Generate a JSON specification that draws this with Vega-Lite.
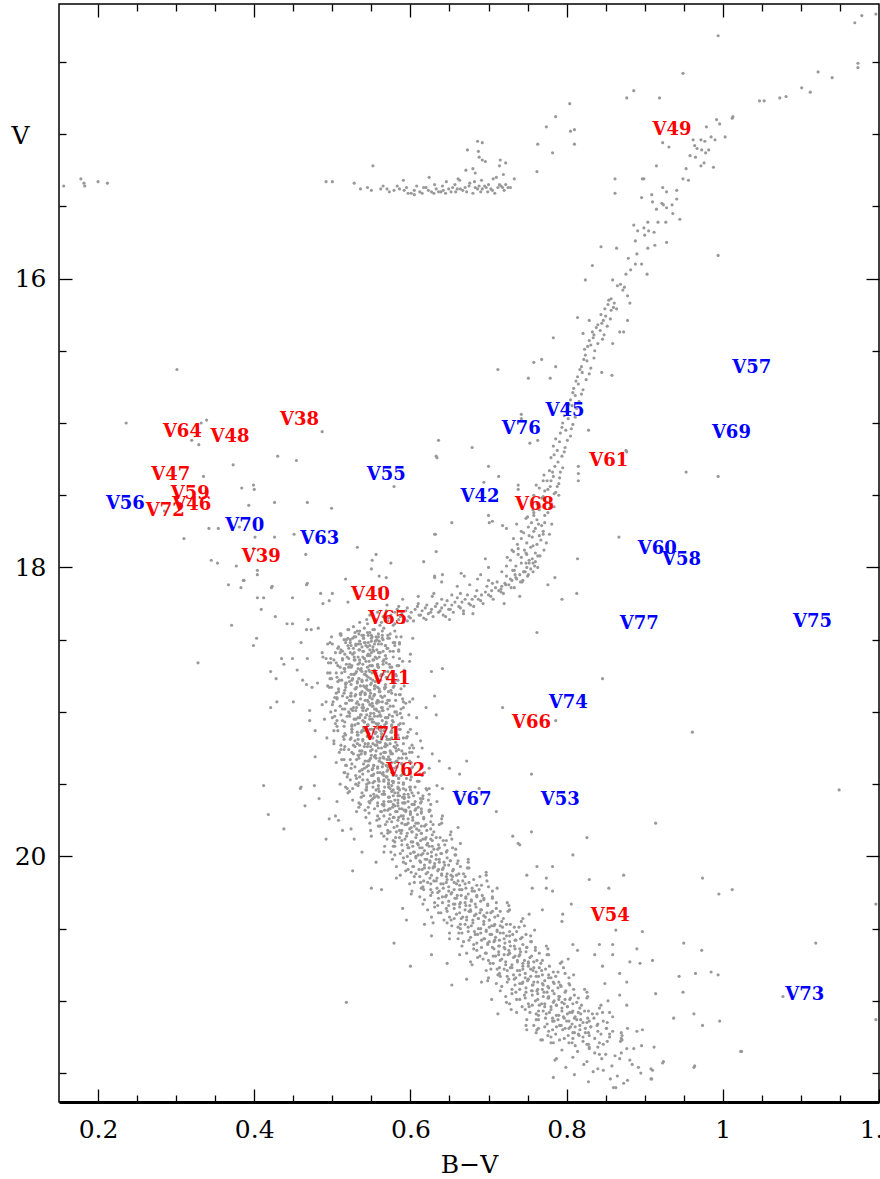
{
"$schema":"https://vega.github.io/schema/vega-lite/v6.json",
"width":820,"height":1098,
"autosize":{"type":"none"},
"padding":{"left":59,"top":4,"right":1,"bottom":77},
"background":"white",
"config":{"view":{"stroke":"black","strokeWidth":1.5},"axis":{"grid":false,"tickColor":"black","tickWidth":1.3,"domain":false,"labelColor":"black","titleColor":"black","labelFont":"DejaVu Serif","titleFont":"DejaVu Serif","labelFontSize":25,"titleFontSize":25,"titleFontWeight":"normal","labelFlush":false,"labelOverlap":false}},
"datasets":{
"ids":[
{"lab":"V49","b":0.935,"v":14.97,"g":"r"},{"lab":"V64","b":0.308,"v":17.06,"g":"r"},{"lab":"V48","b":0.369,"v":17.10,"g":"r"},{"lab":"V38","b":0.458,"v":16.98,"g":"r"},{"lab":"V47","b":0.293,"v":17.36,"g":"r"},{"lab":"V59","b":0.318,"v":17.49,"g":"r"},{"lab":"V46","b":0.320,"v":17.57,"g":"r"},{"lab":"V72","b":0.286,"v":17.61,"g":"r"},{"lab":"V39","b":0.409,"v":17.93,"g":"r"},{"lab":"V40","b":0.549,"v":18.19,"g":"r"},{"lab":"V65","b":0.571,"v":18.36,"g":"r"},{"lab":"V41","b":0.575,"v":18.77,"g":"r"},{"lab":"V71","b":0.564,"v":19.16,"g":"r"},{"lab":"V62","b":0.594,"v":19.41,"g":"r"},{"lab":"V66","b":0.755,"v":19.08,"g":"r"},{"lab":"V68","b":0.759,"v":17.57,"g":"r"},{"lab":"V61","b":0.854,"v":17.26,"g":"r"},{"lab":"V54","b":0.856,"v":20.41,"g":"r"},
{"lab":"V57","b":1.037,"v":16.62,"g":"b"},{"lab":"V45","b":0.798,"v":16.92,"g":"b"},{"lab":"V76","b":0.742,"v":17.04,"g":"b"},{"lab":"V69","b":1.011,"v":17.07,"g":"b"},{"lab":"V55","b":0.569,"v":17.36,"g":"b"},{"lab":"V42","b":0.689,"v":17.51,"g":"b"},{"lab":"V56","b":0.235,"v":17.56,"g":"b"},{"lab":"V70","b":0.388,"v":17.71,"g":"b"},{"lab":"V63","b":0.484,"v":17.80,"g":"b"},{"lab":"V60","b":0.916,"v":17.87,"g":"b"},{"lab":"V58","b":0.947,"v":17.95,"g":"b"},{"lab":"V77","b":0.893,"v":18.39,"g":"b"},{"lab":"V75","b":1.115,"v":18.38,"g":"b"},{"lab":"V74","b":0.802,"v":18.94,"g":"b"},{"lab":"V67","b":0.679,"v":19.61,"g":"b"},{"lab":"V53","b":0.792,"v":19.61,"g":"b"},{"lab":"V73","b":1.105,"v":20.96,"g":"b"}
],
"stars":[
{"b":0.511,"v":18.46},{"b":0.521,"v":18.43},{"b":0.529,"v":18.45},{"b":0.535,"v":18.44},{"b":0.540,"v":18.47},{"b":0.545,"v":18.45},{"b":0.550,"v":18.47},{"b":0.554,"v":18.43},{"b":0.559,"v":18.46},{"b":0.564,"v":18.44},{"b":0.571,"v":18.47},{"b":0.580,"v":18.44},
{"b":0.515,"v":18.50},{"b":0.523,"v":18.52},{"b":0.530,"v":18.48},{"b":0.535,"v":18.51},{"b":0.540,"v":18.49},{"b":0.546,"v":18.52},{"b":0.550,"v":18.49},{"b":0.555,"v":18.51},{"b":0.559,"v":18.48},{"b":0.565,"v":18.50},{"b":0.573,"v":18.49},{"b":0.586,"v":18.52},
{"b":0.511,"v":18.57},{"b":0.520,"v":18.54},{"b":0.527,"v":18.56},{"b":0.533,"v":18.53},{"b":0.538,"v":18.55},{"b":0.543,"v":18.54},{"b":0.548,"v":18.57},{"b":0.552,"v":18.55},{"b":0.557,"v":18.57},{"b":0.563,"v":18.53},{"b":0.570,"v":18.56},{"b":0.580,"v":18.54},
{"b":0.510,"v":18.59},{"b":0.519,"v":18.62},{"b":0.526,"v":18.60},{"b":0.533,"v":18.62},{"b":0.539,"v":18.58},{"b":0.545,"v":18.61},{"b":0.550,"v":18.59},{"b":0.555,"v":18.62},{"b":0.561,"v":18.59},{"b":0.568,"v":18.61},{"b":0.578,"v":18.58},{"b":0.600,"v":18.60},
{"b":0.495,"v":18.66},{"b":0.513,"v":18.64},{"b":0.522,"v":18.67},{"b":0.529,"v":18.64},{"b":0.535,"v":18.66},{"b":0.541,"v":18.63},{"b":0.547,"v":18.65},{"b":0.552,"v":18.64},{"b":0.558,"v":18.67},{"b":0.565,"v":18.65},{"b":0.573,"v":18.67},{"b":0.586,"v":18.63},
{"b":0.507,"v":18.68},{"b":0.516,"v":18.70},{"b":0.524,"v":18.69},{"b":0.531,"v":18.72},{"b":0.537,"v":18.70},{"b":0.543,"v":18.72},{"b":0.548,"v":18.68},{"b":0.554,"v":18.71},{"b":0.559,"v":18.69},{"b":0.567,"v":18.72},{"b":0.576,"v":18.69},{"b":0.592,"v":18.71},
{"b":0.499,"v":18.77},{"b":0.512,"v":18.73},{"b":0.521,"v":18.76},{"b":0.528,"v":18.74},{"b":0.534,"v":18.77},{"b":0.541,"v":18.74},{"b":0.546,"v":18.76},{"b":0.551,"v":18.73},{"b":0.557,"v":18.75},{"b":0.563,"v":18.74},{"b":0.571,"v":18.77},{"b":0.582,"v":18.75},
{"b":0.507,"v":18.79},{"b":0.517,"v":18.81},{"b":0.525,"v":18.78},{"b":0.532,"v":18.80},{"b":0.538,"v":18.79},{"b":0.544,"v":18.82},{"b":0.550,"v":18.80},{"b":0.555,"v":18.82},{"b":0.561,"v":18.78},{"b":0.568,"v":18.81},{"b":0.577,"v":18.79},{"b":0.592,"v":18.82},
{"b":0.505,"v":18.87},{"b":0.516,"v":18.85},{"b":0.524,"v":18.87},{"b":0.531,"v":18.83},{"b":0.538,"v":18.86},{"b":0.544,"v":18.84},{"b":0.549,"v":18.87},{"b":0.554,"v":18.84},{"b":0.560,"v":18.86},{"b":0.567,"v":18.83},{"b":0.575,"v":18.85},{"b":0.588,"v":18.84},
{"b":0.513,"v":18.89},{"b":0.522,"v":18.92},{"b":0.529,"v":18.89},{"b":0.536,"v":18.91},{"b":0.542,"v":18.88},{"b":0.548,"v":18.90},{"b":0.553,"v":18.89},{"b":0.558,"v":18.92},{"b":0.564,"v":18.90},{"b":0.571,"v":18.92},{"b":0.581,"v":18.88},{"b":0.603,"v":18.91},
{"b":0.500,"v":18.95},{"b":0.518,"v":18.94},{"b":0.527,"v":18.97},{"b":0.534,"v":18.95},{"b":0.540,"v":18.97},{"b":0.546,"v":18.93},{"b":0.552,"v":18.96},{"b":0.557,"v":18.94},{"b":0.563,"v":18.97},{"b":0.570,"v":18.94},{"b":0.578,"v":18.96},{"b":0.591,"v":18.93},
{"b":0.513,"v":18.98},{"b":0.522,"v":19.01},{"b":0.530,"v":18.99},{"b":0.537,"v":19.02},{"b":0.543,"v":18.99},{"b":0.549,"v":19.01},{"b":0.554,"v":18.98},{"b":0.560,"v":19.00},{"b":0.565,"v":18.99},{"b":0.573,"v":19.02},{"b":0.582,"v":19.00},{"b":0.598,"v":19.02},
{"b":0.506,"v":19.06},{"b":0.519,"v":19.03},{"b":0.528,"v":19.05},{"b":0.535,"v":19.04},{"b":0.541,"v":19.07},{"b":0.548,"v":19.05},{"b":0.553,"v":19.07},{"b":0.558,"v":19.03},{"b":0.564,"v":19.06},{"b":0.570,"v":19.04},{"b":0.578,"v":19.07},{"b":0.589,"v":19.04},
{"b":0.515,"v":19.10},{"b":0.525,"v":19.12},{"b":0.533,"v":19.08},{"b":0.540,"v":19.11},{"b":0.546,"v":19.09},{"b":0.552,"v":19.12},{"b":0.558,"v":19.09},{"b":0.563,"v":19.11},{"b":0.569,"v":19.08},{"b":0.576,"v":19.10},{"b":0.585,"v":19.09},{"b":0.600,"v":19.12},
{"b":0.514,"v":19.17},{"b":0.525,"v":19.14},{"b":0.533,"v":19.16},{"b":0.540,"v":19.13},{"b":0.547,"v":19.15},{"b":0.553,"v":19.14},{"b":0.558,"v":19.17},{"b":0.563,"v":19.15},{"b":0.569,"v":19.17},{"b":0.576,"v":19.13},{"b":0.584,"v":19.16},{"b":0.597,"v":19.14},
{"b":0.523,"v":19.19},{"b":0.532,"v":19.22},{"b":0.539,"v":19.20},{"b":0.546,"v":19.22},{"b":0.552,"v":19.18},{"b":0.558,"v":19.21},{"b":0.563,"v":19.19},{"b":0.568,"v":19.22},{"b":0.574,"v":19.19},{"b":0.581,"v":19.21},{"b":0.591,"v":19.18},{"b":0.613,"v":19.20},
{"b":0.511,"v":19.26},{"b":0.529,"v":19.24},{"b":0.538,"v":19.27},{"b":0.545,"v":19.24},{"b":0.551,"v":19.26},{"b":0.557,"v":19.23},{"b":0.563,"v":19.25},{"b":0.568,"v":19.24},{"b":0.574,"v":19.27},{"b":0.581,"v":19.25},{"b":0.589,"v":19.27},{"b":0.602,"v":19.23},
{"b":0.525,"v":19.28},{"b":0.534,"v":19.30},{"b":0.542,"v":19.29},{"b":0.549,"v":19.32},{"b":0.555,"v":19.30},{"b":0.561,"v":19.32},{"b":0.566,"v":19.28},{"b":0.572,"v":19.31},{"b":0.577,"v":19.29},{"b":0.585,"v":19.32},{"b":0.594,"v":19.29},{"b":0.610,"v":19.31},
{"b":0.518,"v":19.37},{"b":0.531,"v":19.33},{"b":0.540,"v":19.36},{"b":0.547,"v":19.34},{"b":0.553,"v":19.37},{"b":0.560,"v":19.34},{"b":0.565,"v":19.36},{"b":0.570,"v":19.33},{"b":0.576,"v":19.35},{"b":0.582,"v":19.34},{"b":0.590,"v":19.37},{"b":0.601,"v":19.35},
{"b":0.524,"v":19.39},{"b":0.535,"v":19.41},{"b":0.544,"v":19.38},{"b":0.551,"v":19.40},{"b":0.558,"v":19.39},{"b":0.565,"v":19.42},{"b":0.571,"v":19.40},{"b":0.577,"v":19.42},{"b":0.583,"v":19.38},{"b":0.591,"v":19.41},{"b":0.601,"v":19.39},{"b":0.618,"v":19.42},
{"b":0.523,"v":19.47},{"b":0.535,"v":19.45},{"b":0.545,"v":19.47},{"b":0.553,"v":19.43},{"b":0.559,"v":19.46},{"b":0.566,"v":19.44},{"b":0.572,"v":19.47},{"b":0.578,"v":19.44},{"b":0.585,"v":19.46},{"b":0.592,"v":19.43},{"b":0.601,"v":19.45},{"b":0.615,"v":19.44},
{"b":0.534,"v":19.49},{"b":0.544,"v":19.52},{"b":0.552,"v":19.49},{"b":0.559,"v":19.51},{"b":0.566,"v":19.48},{"b":0.572,"v":19.50},{"b":0.578,"v":19.49},{"b":0.584,"v":19.52},{"b":0.591,"v":19.50},{"b":0.599,"v":19.52},{"b":0.610,"v":19.48},{"b":0.634,"v":19.51},
{"b":0.522,"v":19.55},{"b":0.543,"v":19.54},{"b":0.553,"v":19.57},{"b":0.560,"v":19.55},{"b":0.567,"v":19.57},{"b":0.574,"v":19.53},{"b":0.580,"v":19.56},{"b":0.586,"v":19.54},{"b":0.592,"v":19.57},{"b":0.600,"v":19.54},{"b":0.610,"v":19.56},{"b":0.624,"v":19.53},
{"b":0.540,"v":19.58},{"b":0.550,"v":19.61},{"b":0.559,"v":19.59},{"b":0.566,"v":19.62},{"b":0.573,"v":19.59},{"b":0.580,"v":19.61},{"b":0.586,"v":19.58},{"b":0.592,"v":19.60},{"b":0.598,"v":19.59},{"b":0.606,"v":19.62},{"b":0.616,"v":19.60},{"b":0.634,"v":19.62},
{"b":0.534,"v":19.66},{"b":0.548,"v":19.63},{"b":0.558,"v":19.65},{"b":0.566,"v":19.64},{"b":0.573,"v":19.67},{"b":0.580,"v":19.65},{"b":0.586,"v":19.67},{"b":0.592,"v":19.63},{"b":0.598,"v":19.66},{"b":0.605,"v":19.64},{"b":0.614,"v":19.67},{"b":0.626,"v":19.64},
{"b":0.547,"v":19.70},{"b":0.558,"v":19.72},{"b":0.567,"v":19.68},{"b":0.574,"v":19.71},{"b":0.581,"v":19.69},{"b":0.588,"v":19.72},{"b":0.594,"v":19.69},{"b":0.600,"v":19.71},{"b":0.606,"v":19.68},{"b":0.614,"v":19.70},{"b":0.624,"v":19.69},{"b":0.641,"v":19.72},
{"b":0.548,"v":19.77},{"b":0.560,"v":19.74},{"b":0.570,"v":19.76},{"b":0.578,"v":19.73},{"b":0.584,"v":19.75},{"b":0.591,"v":19.74},{"b":0.597,"v":19.77},{"b":0.603,"v":19.75},{"b":0.610,"v":19.77},{"b":0.617,"v":19.73},{"b":0.626,"v":19.76},{"b":0.640,"v":19.74},
{"b":0.561,"v":19.79},{"b":0.571,"v":19.82},{"b":0.579,"v":19.80},{"b":0.586,"v":19.82},{"b":0.593,"v":19.78},{"b":0.599,"v":19.81},{"b":0.605,"v":19.79},{"b":0.611,"v":19.82},{"b":0.618,"v":19.79},{"b":0.626,"v":19.81},{"b":0.637,"v":19.78},{"b":0.661,"v":19.80},
{"b":0.550,"v":19.86},{"b":0.571,"v":19.84},{"b":0.581,"v":19.87},{"b":0.588,"v":19.84},{"b":0.595,"v":19.86},{"b":0.602,"v":19.83},{"b":0.608,"v":19.85},{"b":0.614,"v":19.84},{"b":0.620,"v":19.87},{"b":0.628,"v":19.85},{"b":0.638,"v":19.87},{"b":0.652,"v":19.83},
{"b":0.570,"v":19.88},{"b":0.580,"v":19.90},{"b":0.589,"v":19.89},{"b":0.596,"v":19.92},{"b":0.603,"v":19.90},{"b":0.610,"v":19.92},{"b":0.616,"v":19.88},{"b":0.622,"v":19.91},{"b":0.628,"v":19.89},{"b":0.636,"v":19.92},{"b":0.646,"v":19.89},{"b":0.664,"v":19.91},
{"b":0.566,"v":19.97},{"b":0.580,"v":19.93},{"b":0.590,"v":19.96},{"b":0.598,"v":19.94},{"b":0.605,"v":19.97},{"b":0.612,"v":19.94},{"b":0.618,"v":19.96},{"b":0.624,"v":19.93},{"b":0.630,"v":19.95},{"b":0.637,"v":19.94},{"b":0.646,"v":19.97},{"b":0.658,"v":19.95},
{"b":0.580,"v":19.99},{"b":0.591,"v":20.01},{"b":0.600,"v":19.98},{"b":0.607,"v":20.00},{"b":0.614,"v":19.99},{"b":0.621,"v":20.02},{"b":0.627,"v":20.00},{"b":0.633,"v":20.02},{"b":0.639,"v":19.98},{"b":0.647,"v":20.01},{"b":0.657,"v":19.99},{"b":0.674,"v":20.02},
{"b":0.582,"v":20.07},{"b":0.594,"v":20.05},{"b":0.604,"v":20.07},{"b":0.612,"v":20.03},{"b":0.618,"v":20.06},{"b":0.625,"v":20.04},{"b":0.631,"v":20.07},{"b":0.637,"v":20.04},{"b":0.644,"v":20.06},{"b":0.651,"v":20.03},{"b":0.660,"v":20.05},{"b":0.674,"v":20.04},
{"b":0.597,"v":20.09},{"b":0.607,"v":20.12},{"b":0.615,"v":20.09},{"b":0.622,"v":20.11},{"b":0.629,"v":20.08},{"b":0.635,"v":20.10},{"b":0.641,"v":20.09},{"b":0.647,"v":20.12},{"b":0.654,"v":20.10},{"b":0.662,"v":20.12},{"b":0.673,"v":20.08},{"b":0.697,"v":20.11},
{"b":0.582,"v":20.15},{"b":0.605,"v":20.14},{"b":0.617,"v":20.17},{"b":0.625,"v":20.15},{"b":0.633,"v":20.17},{"b":0.640,"v":20.13},{"b":0.647,"v":20.16},{"b":0.654,"v":20.14},{"b":0.661,"v":20.17},{"b":0.670,"v":20.14},{"b":0.681,"v":20.16},{"b":0.697,"v":20.13},
{"b":0.605,"v":20.18},{"b":0.616,"v":20.21},{"b":0.626,"v":20.19},{"b":0.634,"v":20.22},{"b":0.642,"v":20.19},{"b":0.649,"v":20.21},{"b":0.656,"v":20.18},{"b":0.663,"v":20.20},{"b":0.670,"v":20.19},{"b":0.679,"v":20.22},{"b":0.691,"v":20.20},{"b":0.711,"v":20.22},
{"b":0.601,"v":20.26},{"b":0.617,"v":20.23},{"b":0.628,"v":20.25},{"b":0.637,"v":20.24},{"b":0.646,"v":20.27},{"b":0.653,"v":20.25},{"b":0.660,"v":20.27},{"b":0.666,"v":20.23},{"b":0.674,"v":20.26},{"b":0.682,"v":20.24},{"b":0.692,"v":20.27},{"b":0.705,"v":20.24},
{"b":0.618,"v":20.30},{"b":0.631,"v":20.32},{"b":0.641,"v":20.28},{"b":0.649,"v":20.31},{"b":0.657,"v":20.29},{"b":0.664,"v":20.32},{"b":0.671,"v":20.29},{"b":0.678,"v":20.31},{"b":0.685,"v":20.28},{"b":0.694,"v":20.30},{"b":0.705,"v":20.29},{"b":0.724,"v":20.32},
{"b":0.622,"v":20.37},{"b":0.635,"v":20.34},{"b":0.646,"v":20.36},{"b":0.655,"v":20.33},{"b":0.663,"v":20.35},{"b":0.671,"v":20.34},{"b":0.677,"v":20.37},{"b":0.684,"v":20.35},{"b":0.691,"v":20.37},{"b":0.699,"v":20.33},{"b":0.710,"v":20.36},{"b":0.726,"v":20.34},
{"b":0.639,"v":20.39},{"b":0.650,"v":20.42},{"b":0.659,"v":20.40},{"b":0.667,"v":20.42},{"b":0.675,"v":20.38},{"b":0.682,"v":20.41},{"b":0.689,"v":20.39},{"b":0.696,"v":20.42},{"b":0.703,"v":20.39},{"b":0.712,"v":20.41},{"b":0.725,"v":20.38},{"b":0.752,"v":20.40},
{"b":0.629,"v":20.46},{"b":0.652,"v":20.44},{"b":0.664,"v":20.47},{"b":0.672,"v":20.44},{"b":0.680,"v":20.46},{"b":0.687,"v":20.43},{"b":0.694,"v":20.45},{"b":0.701,"v":20.44},{"b":0.708,"v":20.47},{"b":0.717,"v":20.45},{"b":0.728,"v":20.47},{"b":0.744,"v":20.43},
{"b":0.653,"v":20.48},{"b":0.664,"v":20.50},{"b":0.674,"v":20.49},{"b":0.682,"v":20.52},{"b":0.690,"v":20.50},{"b":0.697,"v":20.52},{"b":0.704,"v":20.48},{"b":0.711,"v":20.51},{"b":0.718,"v":20.49},{"b":0.727,"v":20.52},{"b":0.739,"v":20.49},{"b":0.759,"v":20.51},
{"b":0.650,"v":20.57},{"b":0.666,"v":20.53},{"b":0.677,"v":20.56},{"b":0.686,"v":20.54},{"b":0.695,"v":20.57},{"b":0.702,"v":20.54},{"b":0.709,"v":20.56},{"b":0.715,"v":20.53},{"b":0.723,"v":20.55},{"b":0.731,"v":20.54},{"b":0.741,"v":20.57},{"b":0.754,"v":20.55},
{"b":0.668,"v":20.59},{"b":0.681,"v":20.61},{"b":0.691,"v":20.58},{"b":0.699,"v":20.60},{"b":0.707,"v":20.59},{"b":0.714,"v":20.62},{"b":0.721,"v":20.60},{"b":0.728,"v":20.62},{"b":0.735,"v":20.58},{"b":0.744,"v":20.61},{"b":0.755,"v":20.59},{"b":0.774,"v":20.62},
{"b":0.672,"v":20.67},{"b":0.685,"v":20.65},{"b":0.696,"v":20.67},{"b":0.705,"v":20.63},{"b":0.713,"v":20.66},{"b":0.721,"v":20.64},{"b":0.727,"v":20.67},{"b":0.734,"v":20.64},{"b":0.741,"v":20.66},{"b":0.749,"v":20.63},{"b":0.760,"v":20.65},{"b":0.776,"v":20.64},
{"b":0.689,"v":20.69},{"b":0.700,"v":20.72},{"b":0.709,"v":20.69},{"b":0.717,"v":20.71},{"b":0.725,"v":20.68},{"b":0.732,"v":20.70},{"b":0.739,"v":20.69},{"b":0.746,"v":20.72},{"b":0.753,"v":20.70},{"b":0.762,"v":20.72},{"b":0.775,"v":20.68},{"b":0.802,"v":20.71},
{"b":0.679,"v":20.75},{"b":0.702,"v":20.74},{"b":0.714,"v":20.77},{"b":0.722,"v":20.75},{"b":0.730,"v":20.77},{"b":0.737,"v":20.73},{"b":0.744,"v":20.76},{"b":0.751,"v":20.74},{"b":0.758,"v":20.77},{"b":0.767,"v":20.74},{"b":0.778,"v":20.76},{"b":0.794,"v":20.73},
{"b":0.703,"v":20.78},{"b":0.714,"v":20.81},{"b":0.724,"v":20.79},{"b":0.732,"v":20.82},{"b":0.740,"v":20.79},{"b":0.747,"v":20.81},{"b":0.754,"v":20.78},{"b":0.761,"v":20.80},{"b":0.768,"v":20.79},{"b":0.777,"v":20.82},{"b":0.789,"v":20.80},{"b":0.809,"v":20.82},
{"b":0.699,"v":20.86},{"b":0.715,"v":20.83},{"b":0.726,"v":20.85},{"b":0.735,"v":20.84},{"b":0.744,"v":20.87},{"b":0.751,"v":20.85},{"b":0.758,"v":20.87},{"b":0.764,"v":20.83},{"b":0.772,"v":20.86},{"b":0.780,"v":20.84},{"b":0.790,"v":20.87},{"b":0.803,"v":20.84},
{"b":0.717,"v":20.90},{"b":0.730,"v":20.92},{"b":0.740,"v":20.88},{"b":0.748,"v":20.91},{"b":0.756,"v":20.89},{"b":0.763,"v":20.92},{"b":0.770,"v":20.89},{"b":0.777,"v":20.91},{"b":0.784,"v":20.88},{"b":0.793,"v":20.90},{"b":0.804,"v":20.89},{"b":0.823,"v":20.92},
{"b":0.722,"v":20.97},{"b":0.735,"v":20.94},{"b":0.746,"v":20.96},{"b":0.755,"v":20.93},{"b":0.763,"v":20.95},{"b":0.771,"v":20.94},{"b":0.777,"v":20.97},{"b":0.784,"v":20.95},{"b":0.791,"v":20.97},{"b":0.799,"v":20.93},{"b":0.810,"v":20.96},{"b":0.826,"v":20.94},
{"b":0.740,"v":20.99},{"b":0.751,"v":21.02},{"b":0.760,"v":21.00},{"b":0.768,"v":21.02},{"b":0.776,"v":20.98},{"b":0.783,"v":21.01},{"b":0.790,"v":20.99},{"b":0.797,"v":21.02},{"b":0.804,"v":20.99},{"b":0.813,"v":21.01},{"b":0.826,"v":20.98},{"b":0.853,"v":21.00},
{"b":0.729,"v":21.06},{"b":0.752,"v":21.04},{"b":0.764,"v":21.07},{"b":0.772,"v":21.04},{"b":0.780,"v":21.06},{"b":0.787,"v":21.03},{"b":0.794,"v":21.05},{"b":0.801,"v":21.04},{"b":0.808,"v":21.07},{"b":0.817,"v":21.05},{"b":0.828,"v":21.07},{"b":0.844,"v":21.03},
{"b":0.753,"v":21.08},{"b":0.764,"v":21.10},{"b":0.774,"v":21.09},{"b":0.782,"v":21.12},{"b":0.790,"v":21.10},{"b":0.797,"v":21.12},{"b":0.804,"v":21.08},{"b":0.811,"v":21.11},{"b":0.818,"v":21.09},{"b":0.827,"v":21.12},{"b":0.839,"v":21.09},{"b":0.859,"v":21.11},
{"b":0.748,"v":21.17},{"b":0.764,"v":21.13},{"b":0.775,"v":21.16},{"b":0.784,"v":21.14},{"b":0.793,"v":21.17},{"b":0.800,"v":21.14},{"b":0.807,"v":21.16},{"b":0.813,"v":21.13},{"b":0.821,"v":21.15},{"b":0.829,"v":21.14},{"b":0.839,"v":21.17},{"b":0.852,"v":21.15},
{"b":0.764,"v":21.19},{"b":0.777,"v":21.21},{"b":0.787,"v":21.18},{"b":0.795,"v":21.20},{"b":0.803,"v":21.19},{"b":0.810,"v":21.22},{"b":0.817,"v":21.20},{"b":0.824,"v":21.22},{"b":0.831,"v":21.18},{"b":0.840,"v":21.21},{"b":0.851,"v":21.19},{"b":0.870,"v":21.22},
{"b":0.767,"v":21.27},{"b":0.780,"v":21.25},{"b":0.791,"v":21.27},{"b":0.808,"v":21.26},{"b":0.816,"v":21.24},{"b":0.829,"v":21.24},{"b":0.836,"v":21.26},{"b":0.855,"v":21.25},{"b":0.871,"v":21.24},
{"b":0.783,"v":21.29},{"b":0.803,"v":21.29},{"b":0.811,"v":21.31},{"b":0.826,"v":21.30},{"b":0.840,"v":21.32},{"b":0.847,"v":21.30},{"b":0.869,"v":21.28},{"b":0.896,"v":21.31},
{"b":0.794,"v":21.34},{"b":0.814,"v":21.35},{"b":0.829,"v":21.33},{"b":0.836,"v":21.36},{"b":0.850,"v":21.37},{"b":0.870,"v":21.36},{"b":0.886,"v":21.33},
{"b":0.785,"v":21.41},{"b":0.808,"v":21.39},{"b":0.826,"v":21.42},{"b":0.845,"v":21.40},{"b":0.862,"v":21.38},{"b":0.881,"v":21.41},
{"b":0.799,"v":21.46},{"b":0.822,"v":21.44},{"b":0.840,"v":21.47},{"b":0.858,"v":21.45},{"b":0.884,"v":21.44},
{"b":0.810,"v":21.51},{"b":0.834,"v":21.49},{"b":0.865,"v":21.52},{"b":0.895,"v":21.50},
{"b":0.828,"v":21.56},{"b":0.856,"v":21.54},{"b":0.873,"v":21.57},
{"b":0.499,"v":18.48},{"b":0.511,"v":18.47},{"b":0.520,"v":18.49},{"b":0.528,"v":18.48},{"b":0.534,"v":18.46},{"b":0.540,"v":18.49},{"b":0.546,"v":18.47},{"b":0.551,"v":18.48},{"b":0.557,"v":18.50},{"b":0.564,"v":18.47},{"b":0.571,"v":18.49},{"b":0.582,"v":18.48},
{"b":0.494,"v":18.53},{"b":0.508,"v":18.55},{"b":0.517,"v":18.52},{"b":0.524,"v":18.54},{"b":0.530,"v":18.53},{"b":0.536,"v":18.53},{"b":0.542,"v":18.52},{"b":0.548,"v":18.54},{"b":0.554,"v":18.53},{"b":0.560,"v":18.51},{"b":0.568,"v":18.54},{"b":0.578,"v":18.52},
{"b":0.504,"v":18.59},{"b":0.513,"v":18.58},{"b":0.521,"v":18.56},{"b":0.528,"v":18.59},{"b":0.534,"v":18.57},{"b":0.540,"v":18.58},{"b":0.546,"v":18.60},{"b":0.552,"v":18.57},{"b":0.559,"v":18.59},{"b":0.565,"v":18.58},{"b":0.574,"v":18.58},{"b":0.585,"v":18.57},
{"b":0.488,"v":18.62},{"b":0.502,"v":18.64},{"b":0.513,"v":18.63},{"b":0.521,"v":18.63},{"b":0.528,"v":18.62},{"b":0.535,"v":18.64},{"b":0.541,"v":18.63},{"b":0.547,"v":18.61},{"b":0.553,"v":18.64},{"b":0.560,"v":18.62},{"b":0.569,"v":18.63},{"b":0.590,"v":18.65},
{"b":0.498,"v":18.66},{"b":0.510,"v":18.69},{"b":0.518,"v":18.67},{"b":0.525,"v":18.68},{"b":0.533,"v":18.70},{"b":0.539,"v":18.67},{"b":0.545,"v":18.69},{"b":0.551,"v":18.68},{"b":0.558,"v":18.68},{"b":0.565,"v":18.67},{"b":0.574,"v":18.69},{"b":0.585,"v":18.68},
{"b":0.494,"v":18.73},{"b":0.505,"v":18.73},{"b":0.516,"v":18.72},{"b":0.524,"v":18.74},{"b":0.530,"v":18.73},{"b":0.536,"v":18.71},{"b":0.542,"v":18.74},{"b":0.548,"v":18.72},{"b":0.555,"v":18.73},{"b":0.562,"v":18.75},{"b":0.571,"v":18.72},{"b":0.581,"v":18.74},
{"b":0.497,"v":18.77},{"b":0.509,"v":18.78},{"b":0.518,"v":18.80},{"b":0.526,"v":18.77},{"b":0.532,"v":18.79},{"b":0.538,"v":18.78},{"b":0.544,"v":18.78},{"b":0.549,"v":18.77},{"b":0.555,"v":18.79},{"b":0.562,"v":18.78},{"b":0.569,"v":18.76},{"b":0.580,"v":18.79},
{"b":0.494,"v":18.82},{"b":0.508,"v":18.84},{"b":0.517,"v":18.83},{"b":0.524,"v":18.81},{"b":0.530,"v":18.84},{"b":0.536,"v":18.82},{"b":0.542,"v":18.83},{"b":0.548,"v":18.85},{"b":0.554,"v":18.82},{"b":0.560,"v":18.84},{"b":0.568,"v":18.83},{"b":0.578,"v":18.83},
{"b":0.506,"v":18.90},{"b":0.515,"v":18.87},{"b":0.523,"v":18.89},{"b":0.530,"v":18.88},{"b":0.536,"v":18.88},{"b":0.542,"v":18.87},{"b":0.548,"v":18.89},{"b":0.554,"v":18.88},{"b":0.561,"v":18.86},{"b":0.567,"v":18.89},{"b":0.576,"v":18.87},{"b":0.587,"v":18.88},
{"b":0.492,"v":18.93},{"b":0.506,"v":18.91},{"b":0.517,"v":18.94},{"b":0.525,"v":18.92},{"b":0.532,"v":18.93},{"b":0.539,"v":18.95},{"b":0.545,"v":18.92},{"b":0.551,"v":18.94},{"b":0.557,"v":18.93},{"b":0.564,"v":18.93},{"b":0.573,"v":18.92},{"b":0.594,"v":18.94},
{"b":0.504,"v":18.99},{"b":0.516,"v":18.98},{"b":0.524,"v":18.98},{"b":0.531,"v":18.97},{"b":0.539,"v":18.99},{"b":0.545,"v":18.98},{"b":0.551,"v":18.96},{"b":0.557,"v":18.99},{"b":0.564,"v":18.97},{"b":0.571,"v":18.98},{"b":0.580,"v":19.00},{"b":0.591,"v":18.97},
{"b":0.500,"v":19.04},{"b":0.511,"v":19.02},{"b":0.522,"v":19.03},{"b":0.530,"v":19.05},{"b":0.536,"v":19.02},{"b":0.542,"v":19.04},{"b":0.548,"v":19.03},{"b":0.554,"v":19.03},{"b":0.561,"v":19.02},{"b":0.568,"v":19.04},{"b":0.577,"v":19.03},{"b":0.587,"v":19.01},
{"b":0.504,"v":19.08},{"b":0.516,"v":19.07},{"b":0.525,"v":19.09},{"b":0.533,"v":19.08},{"b":0.539,"v":19.06},{"b":0.545,"v":19.09},{"b":0.551,"v":19.07},{"b":0.556,"v":19.08},{"b":0.562,"v":19.10},{"b":0.569,"v":19.07},{"b":0.576,"v":19.09},{"b":0.587,"v":19.08},
{"b":0.502,"v":19.13},{"b":0.516,"v":19.15},{"b":0.525,"v":19.12},{"b":0.532,"v":19.14},{"b":0.538,"v":19.13},{"b":0.544,"v":19.13},{"b":0.550,"v":19.12},{"b":0.556,"v":19.14},{"b":0.562,"v":19.13},{"b":0.568,"v":19.11},{"b":0.576,"v":19.14},{"b":0.586,"v":19.12},
{"b":0.515,"v":19.19},{"b":0.524,"v":19.18},{"b":0.532,"v":19.16},{"b":0.539,"v":19.19},{"b":0.545,"v":19.17},{"b":0.551,"v":19.18},{"b":0.557,"v":19.20},{"b":0.563,"v":19.17},{"b":0.570,"v":19.19},{"b":0.576,"v":19.18},{"b":0.585,"v":19.18},{"b":0.596,"v":19.17},
{"b":0.502,"v":19.22},{"b":0.516,"v":19.24},{"b":0.527,"v":19.23},{"b":0.535,"v":19.23},{"b":0.542,"v":19.22},{"b":0.549,"v":19.24},{"b":0.555,"v":19.23},{"b":0.561,"v":19.21},{"b":0.567,"v":19.24},{"b":0.574,"v":19.22},{"b":0.583,"v":19.23},{"b":0.604,"v":19.25},
{"b":0.515,"v":19.26},{"b":0.527,"v":19.29},{"b":0.535,"v":19.27},{"b":0.542,"v":19.28},{"b":0.550,"v":19.30},{"b":0.556,"v":19.27},{"b":0.562,"v":19.29},{"b":0.568,"v":19.28},{"b":0.575,"v":19.28},{"b":0.582,"v":19.27},{"b":0.591,"v":19.29},{"b":0.602,"v":19.28},
{"b":0.512,"v":19.33},{"b":0.523,"v":19.33},{"b":0.534,"v":19.32},{"b":0.542,"v":19.34},{"b":0.548,"v":19.33},{"b":0.554,"v":19.31},{"b":0.560,"v":19.34},{"b":0.566,"v":19.32},{"b":0.573,"v":19.33},{"b":0.580,"v":19.35},{"b":0.589,"v":19.32},{"b":0.599,"v":19.34},
{"b":0.517,"v":19.37},{"b":0.529,"v":19.38},{"b":0.538,"v":19.40},{"b":0.546,"v":19.37},{"b":0.552,"v":19.39},{"b":0.558,"v":19.38},{"b":0.564,"v":19.38},{"b":0.569,"v":19.37},{"b":0.575,"v":19.39},{"b":0.582,"v":19.38},{"b":0.589,"v":19.36},{"b":0.600,"v":19.39},
{"b":0.516,"v":19.42},{"b":0.530,"v":19.44},{"b":0.539,"v":19.43},{"b":0.546,"v":19.41},{"b":0.552,"v":19.44},{"b":0.558,"v":19.42},{"b":0.564,"v":19.43},{"b":0.570,"v":19.45},{"b":0.576,"v":19.42},{"b":0.582,"v":19.44},{"b":0.590,"v":19.43},{"b":0.600,"v":19.43},
{"b":0.530,"v":19.50},{"b":0.539,"v":19.47},{"b":0.547,"v":19.49},{"b":0.554,"v":19.48},{"b":0.560,"v":19.48},{"b":0.566,"v":19.47},{"b":0.572,"v":19.49},{"b":0.578,"v":19.48},{"b":0.585,"v":19.46},{"b":0.591,"v":19.49},{"b":0.600,"v":19.47},{"b":0.611,"v":19.48},
{"b":0.519,"v":19.53},{"b":0.533,"v":19.51},{"b":0.544,"v":19.54},{"b":0.552,"v":19.52},{"b":0.559,"v":19.53},{"b":0.566,"v":19.55},{"b":0.572,"v":19.52},{"b":0.578,"v":19.54},{"b":0.584,"v":19.53},{"b":0.591,"v":19.53},{"b":0.600,"v":19.52},{"b":0.621,"v":19.54},
{"b":0.537,"v":19.59},{"b":0.549,"v":19.58},{"b":0.557,"v":19.58},{"b":0.564,"v":19.57},{"b":0.572,"v":19.59},{"b":0.578,"v":19.58},{"b":0.584,"v":19.56},{"b":0.590,"v":19.59},{"b":0.597,"v":19.57},{"b":0.604,"v":19.58},{"b":0.613,"v":19.60},{"b":0.624,"v":19.57},
{"b":0.536,"v":19.64},{"b":0.547,"v":19.62},{"b":0.558,"v":19.63},{"b":0.566,"v":19.65},{"b":0.572,"v":19.62},{"b":0.578,"v":19.64},{"b":0.584,"v":19.63},{"b":0.590,"v":19.63},{"b":0.597,"v":19.62},{"b":0.604,"v":19.64},{"b":0.613,"v":19.63},{"b":0.623,"v":19.61},
{"b":0.542,"v":19.68},{"b":0.554,"v":19.67},{"b":0.563,"v":19.69},{"b":0.571,"v":19.68},{"b":0.577,"v":19.66},{"b":0.583,"v":19.69},{"b":0.589,"v":19.67},{"b":0.594,"v":19.68},{"b":0.600,"v":19.70},{"b":0.607,"v":19.67},{"b":0.614,"v":19.69},{"b":0.625,"v":19.68},
{"b":0.543,"v":19.73},{"b":0.557,"v":19.75},{"b":0.566,"v":19.72},{"b":0.573,"v":19.74},{"b":0.579,"v":19.73},{"b":0.585,"v":19.73},{"b":0.591,"v":19.72},{"b":0.597,"v":19.74},{"b":0.603,"v":19.73},{"b":0.609,"v":19.71},{"b":0.617,"v":19.74},{"b":0.627,"v":19.72},
{"b":0.559,"v":19.79},{"b":0.568,"v":19.78},{"b":0.576,"v":19.76},{"b":0.583,"v":19.79},{"b":0.589,"v":19.77},{"b":0.595,"v":19.78},{"b":0.601,"v":19.80},{"b":0.607,"v":19.77},{"b":0.614,"v":19.79},{"b":0.620,"v":19.78},{"b":0.629,"v":19.78},{"b":0.640,"v":19.77},
{"b":0.549,"v":19.82},{"b":0.563,"v":19.84},{"b":0.574,"v":19.83},{"b":0.582,"v":19.83},{"b":0.589,"v":19.82},{"b":0.596,"v":19.84},{"b":0.602,"v":19.83},{"b":0.608,"v":19.81},{"b":0.614,"v":19.84},{"b":0.621,"v":19.82},{"b":0.630,"v":19.83},{"b":0.651,"v":19.85},
{"b":0.566,"v":19.86},{"b":0.578,"v":19.89},{"b":0.586,"v":19.87},{"b":0.593,"v":19.88},{"b":0.601,"v":19.90},{"b":0.607,"v":19.87},{"b":0.613,"v":19.89},{"b":0.619,"v":19.88},{"b":0.626,"v":19.88},{"b":0.633,"v":19.87},{"b":0.642,"v":19.89},{"b":0.653,"v":19.88},
{"b":0.567,"v":19.93},{"b":0.578,"v":19.93},{"b":0.589,"v":19.92},{"b":0.597,"v":19.94},{"b":0.603,"v":19.93},{"b":0.609,"v":19.91},{"b":0.615,"v":19.94},{"b":0.621,"v":19.92},{"b":0.628,"v":19.93},{"b":0.635,"v":19.95},{"b":0.644,"v":19.92},{"b":0.654,"v":19.94},
{"b":0.575,"v":19.97},{"b":0.587,"v":19.98},{"b":0.596,"v":20.00},{"b":0.604,"v":19.97},{"b":0.610,"v":19.99},{"b":0.616,"v":19.98},{"b":0.622,"v":19.98},{"b":0.627,"v":19.97},{"b":0.633,"v":19.99},{"b":0.640,"v":19.98},{"b":0.647,"v":19.96},{"b":0.658,"v":19.99},
{"b":0.577,"v":20.02},{"b":0.591,"v":20.04},{"b":0.600,"v":20.03},{"b":0.607,"v":20.01},{"b":0.613,"v":20.04},{"b":0.619,"v":20.02},{"b":0.625,"v":20.03},{"b":0.631,"v":20.05},{"b":0.637,"v":20.02},{"b":0.643,"v":20.04},{"b":0.651,"v":20.03},{"b":0.661,"v":20.03},
{"b":0.594,"v":20.10},{"b":0.603,"v":20.07},{"b":0.611,"v":20.09},{"b":0.618,"v":20.08},{"b":0.624,"v":20.08},{"b":0.630,"v":20.07},{"b":0.636,"v":20.09},{"b":0.642,"v":20.08},{"b":0.649,"v":20.06},{"b":0.655,"v":20.09},{"b":0.664,"v":20.07},{"b":0.675,"v":20.08},
{"b":0.587,"v":20.13},{"b":0.601,"v":20.11},{"b":0.612,"v":20.14},{"b":0.620,"v":20.12},{"b":0.627,"v":20.13},{"b":0.634,"v":20.15},{"b":0.640,"v":20.12},{"b":0.646,"v":20.14},{"b":0.652,"v":20.13},{"b":0.659,"v":20.13},{"b":0.668,"v":20.12},{"b":0.689,"v":20.14},
{"b":0.599,"v":20.19},{"b":0.613,"v":20.18},{"b":0.622,"v":20.18},{"b":0.630,"v":20.17},{"b":0.639,"v":20.19},{"b":0.646,"v":20.18},{"b":0.653,"v":20.16},{"b":0.659,"v":20.19},{"b":0.667,"v":20.17},{"b":0.675,"v":20.18},{"b":0.685,"v":20.20},{"b":0.698,"v":20.17},
{"b":0.602,"v":20.24},{"b":0.614,"v":20.22},{"b":0.626,"v":20.23},{"b":0.635,"v":20.25},{"b":0.642,"v":20.22},{"b":0.649,"v":20.24},{"b":0.656,"v":20.23},{"b":0.663,"v":20.23},{"b":0.671,"v":20.22},{"b":0.679,"v":20.24},{"b":0.688,"v":20.23},{"b":0.700,"v":20.21},
{"b":0.612,"v":20.28},{"b":0.626,"v":20.27},{"b":0.636,"v":20.29},{"b":0.645,"v":20.28},{"b":0.652,"v":20.26},{"b":0.659,"v":20.29},{"b":0.665,"v":20.27},{"b":0.671,"v":20.28},{"b":0.678,"v":20.30},{"b":0.685,"v":20.27},{"b":0.694,"v":20.29},{"b":0.705,"v":20.28},
{"b":0.616,"v":20.33},{"b":0.631,"v":20.35},{"b":0.641,"v":20.32},{"b":0.649,"v":20.34},{"b":0.657,"v":20.33},{"b":0.663,"v":20.33},{"b":0.670,"v":20.32},{"b":0.676,"v":20.34},{"b":0.683,"v":20.33},{"b":0.690,"v":20.31},{"b":0.699,"v":20.34},{"b":0.710,"v":20.32},
{"b":0.636,"v":20.39},{"b":0.647,"v":20.38},{"b":0.656,"v":20.36},{"b":0.663,"v":20.39},{"b":0.670,"v":20.37},{"b":0.677,"v":20.38},{"b":0.684,"v":20.40},{"b":0.690,"v":20.37},{"b":0.698,"v":20.39},{"b":0.705,"v":20.38},{"b":0.715,"v":20.38},{"b":0.727,"v":20.37},
{"b":0.627,"v":20.42},{"b":0.643,"v":20.44},{"b":0.656,"v":20.43},{"b":0.665,"v":20.43},{"b":0.672,"v":20.42},{"b":0.680,"v":20.44},{"b":0.687,"v":20.43},{"b":0.694,"v":20.41},{"b":0.701,"v":20.44},{"b":0.708,"v":20.42},{"b":0.719,"v":20.43},{"b":0.742,"v":20.45},
{"b":0.647,"v":20.46},{"b":0.661,"v":20.49},{"b":0.670,"v":20.47},{"b":0.678,"v":20.48},{"b":0.687,"v":20.50},{"b":0.694,"v":20.47},{"b":0.701,"v":20.49},{"b":0.707,"v":20.48},{"b":0.715,"v":20.48},{"b":0.723,"v":20.47},{"b":0.733,"v":20.49},{"b":0.746,"v":20.48},
{"b":0.650,"v":20.53},{"b":0.662,"v":20.53},{"b":0.674,"v":20.52},{"b":0.683,"v":20.54},{"b":0.690,"v":20.53},{"b":0.697,"v":20.51},{"b":0.704,"v":20.54},{"b":0.711,"v":20.52},{"b":0.719,"v":20.53},{"b":0.727,"v":20.55},{"b":0.736,"v":20.52},{"b":0.748,"v":20.54},
{"b":0.661,"v":20.57},{"b":0.675,"v":20.58},{"b":0.685,"v":20.60},{"b":0.694,"v":20.57},{"b":0.701,"v":20.59},{"b":0.708,"v":20.58},{"b":0.714,"v":20.58},{"b":0.720,"v":20.57},{"b":0.727,"v":20.59},{"b":0.734,"v":20.58},{"b":0.743,"v":20.56},{"b":0.754,"v":20.59},
{"b":0.666,"v":20.62},{"b":0.681,"v":20.64},{"b":0.691,"v":20.63},{"b":0.699,"v":20.61},{"b":0.707,"v":20.64},{"b":0.713,"v":20.62},{"b":0.720,"v":20.63},{"b":0.726,"v":20.65},{"b":0.733,"v":20.62},{"b":0.740,"v":20.64},{"b":0.749,"v":20.63},{"b":0.760,"v":20.63},
{"b":0.686,"v":20.70},{"b":0.697,"v":20.67},{"b":0.706,"v":20.69},{"b":0.713,"v":20.68},{"b":0.720,"v":20.68},{"b":0.727,"v":20.67},{"b":0.734,"v":20.69},{"b":0.740,"v":20.68},{"b":0.748,"v":20.66},{"b":0.755,"v":20.69},{"b":0.765,"v":20.67},{"b":0.777,"v":20.68},
{"b":0.677,"v":20.73},{"b":0.693,"v":20.71},{"b":0.706,"v":20.74},{"b":0.715,"v":20.72},{"b":0.722,"v":20.73},{"b":0.730,"v":20.75},{"b":0.737,"v":20.72},{"b":0.744,"v":20.74},{"b":0.751,"v":20.73},{"b":0.758,"v":20.73},{"b":0.769,"v":20.72},{"b":0.792,"v":20.74},
{"b":0.697,"v":20.79},{"b":0.711,"v":20.78},{"b":0.720,"v":20.78},{"b":0.728,"v":20.77},{"b":0.737,"v":20.79},{"b":0.744,"v":20.78},{"b":0.751,"v":20.76},{"b":0.757,"v":20.79},{"b":0.765,"v":20.77},{"b":0.773,"v":20.78},{"b":0.783,"v":20.80},{"b":0.796,"v":20.77},
{"b":0.700,"v":20.84},{"b":0.712,"v":20.82},{"b":0.724,"v":20.83},{"b":0.733,"v":20.85},{"b":0.740,"v":20.82},{"b":0.747,"v":20.84},{"b":0.754,"v":20.83},{"b":0.761,"v":20.83},{"b":0.769,"v":20.82},{"b":0.777,"v":20.84},{"b":0.786,"v":20.83},{"b":0.798,"v":20.81},
{"b":0.710,"v":20.88},{"b":0.724,"v":20.87},{"b":0.734,"v":20.89},{"b":0.743,"v":20.88},{"b":0.750,"v":20.86},{"b":0.757,"v":20.89},{"b":0.763,"v":20.87},{"b":0.769,"v":20.88},{"b":0.776,"v":20.90},{"b":0.783,"v":20.87},{"b":0.792,"v":20.89},{"b":0.803,"v":20.88},
{"b":0.715,"v":20.93},{"b":0.730,"v":20.95},{"b":0.740,"v":20.92},{"b":0.748,"v":20.94},{"b":0.756,"v":20.93},{"b":0.762,"v":20.93},{"b":0.769,"v":20.92},{"b":0.775,"v":20.94},{"b":0.782,"v":20.93},{"b":0.789,"v":20.91},{"b":0.798,"v":20.94},{"b":0.809,"v":20.92},
{"b":0.736,"v":20.99},{"b":0.747,"v":20.98},{"b":0.756,"v":20.96},{"b":0.763,"v":20.99},{"b":0.770,"v":20.97},{"b":0.777,"v":20.98},{"b":0.784,"v":21.00},{"b":0.790,"v":20.97},{"b":0.798,"v":20.99},{"b":0.805,"v":20.98},{"b":0.815,"v":20.98},{"b":0.827,"v":20.97},
{"b":0.727,"v":21.02},{"b":0.743,"v":21.04},{"b":0.756,"v":21.03},{"b":0.765,"v":21.03},{"b":0.772,"v":21.02},{"b":0.780,"v":21.04},{"b":0.787,"v":21.03},{"b":0.794,"v":21.01},{"b":0.801,"v":21.04},{"b":0.808,"v":21.02},{"b":0.819,"v":21.03},{"b":0.842,"v":21.05},
{"b":0.747,"v":21.06},{"b":0.761,"v":21.09},{"b":0.770,"v":21.07},{"b":0.778,"v":21.08},{"b":0.787,"v":21.10},{"b":0.794,"v":21.07},{"b":0.801,"v":21.09},{"b":0.807,"v":21.08},{"b":0.815,"v":21.08},{"b":0.823,"v":21.07},{"b":0.833,"v":21.09},{"b":0.846,"v":21.08},
{"b":0.749,"v":21.13},{"b":0.761,"v":21.13},{"b":0.773,"v":21.12},{"b":0.782,"v":21.14},{"b":0.789,"v":21.13},{"b":0.796,"v":21.11},{"b":0.803,"v":21.14},{"b":0.810,"v":21.12},{"b":0.818,"v":21.13},{"b":0.826,"v":21.15},{"b":0.835,"v":21.12},{"b":0.847,"v":21.14},
{"b":0.758,"v":21.17},{"b":0.772,"v":21.18},{"b":0.782,"v":21.20},{"b":0.791,"v":21.17},{"b":0.798,"v":21.19},{"b":0.805,"v":21.18},{"b":0.811,"v":21.18},{"b":0.817,"v":21.17},{"b":0.824,"v":21.19},{"b":0.831,"v":21.18},{"b":0.840,"v":21.16},{"b":0.851,"v":21.19},
{"b":0.761,"v":21.22},{"b":0.776,"v":21.24},{"b":0.786,"v":21.23},{"b":0.802,"v":21.24},{"b":0.808,"v":21.22},{"b":0.815,"v":21.23},{"b":0.821,"v":21.25},{"b":0.828,"v":21.22},{"b":0.844,"v":21.23},{"b":0.855,"v":21.23},
{"b":0.780,"v":21.29},{"b":0.797,"v":21.26},{"b":0.807,"v":21.29},{"b":0.821,"v":21.28},{"b":0.828,"v":21.30},{"b":0.842,"v":21.29},{"b":0.852,"v":21.28},{"b":0.871,"v":21.27},
{"b":0.510,"v":18.46},{"b":0.526,"v":18.49},{"b":0.538,"v":18.47},{"b":0.548,"v":18.45},{"b":0.556,"v":18.48},{"b":0.564,"v":18.49},{"b":0.574,"v":18.46},{"b":0.588,"v":18.48},
{"b":0.500,"v":18.53},{"b":0.518,"v":18.50},{"b":0.530,"v":18.54},{"b":0.541,"v":18.52},{"b":0.550,"v":18.51},{"b":0.559,"v":18.53},{"b":0.568,"v":18.54},{"b":0.580,"v":18.52},
{"b":0.507,"v":18.56},{"b":0.523,"v":18.59},{"b":0.535,"v":18.57},{"b":0.545,"v":18.55},{"b":0.553,"v":18.58},{"b":0.561,"v":18.59},{"b":0.571,"v":18.56},{"b":0.585,"v":18.58},
{"b":0.498,"v":18.63},{"b":0.516,"v":18.60},{"b":0.528,"v":18.64},{"b":0.539,"v":18.62},{"b":0.548,"v":18.61},{"b":0.557,"v":18.63},{"b":0.566,"v":18.64},{"b":0.578,"v":18.62},
{"b":0.505,"v":18.66},{"b":0.521,"v":18.69},{"b":0.533,"v":18.67},{"b":0.543,"v":18.65},{"b":0.551,"v":18.68},{"b":0.559,"v":18.69},{"b":0.569,"v":18.66},{"b":0.583,"v":18.68},
{"b":0.497,"v":18.73},{"b":0.515,"v":18.70},{"b":0.527,"v":18.74},{"b":0.538,"v":18.72},{"b":0.547,"v":18.71},{"b":0.556,"v":18.73},{"b":0.565,"v":18.74},{"b":0.577,"v":18.72},
{"b":0.506,"v":18.76},{"b":0.522,"v":18.79},{"b":0.534,"v":18.77},{"b":0.544,"v":18.75},{"b":0.552,"v":18.78},{"b":0.560,"v":18.79},{"b":0.570,"v":18.76},{"b":0.584,"v":18.78},
{"b":0.499,"v":18.83},{"b":0.517,"v":18.80},{"b":0.529,"v":18.84},{"b":0.540,"v":18.82},{"b":0.549,"v":18.81},{"b":0.558,"v":18.83},{"b":0.567,"v":18.84},{"b":0.579,"v":18.82},
{"b":0.508,"v":18.86},{"b":0.524,"v":18.89},{"b":0.536,"v":18.87},{"b":0.546,"v":18.85},{"b":0.554,"v":18.88},{"b":0.562,"v":18.89},{"b":0.572,"v":18.86},{"b":0.586,"v":18.88},
{"b":0.501,"v":18.93},{"b":0.519,"v":18.90},{"b":0.531,"v":18.94},{"b":0.542,"v":18.92},{"b":0.551,"v":18.91},{"b":0.560,"v":18.93},{"b":0.569,"v":18.94},{"b":0.581,"v":18.92},
{"b":0.510,"v":18.96},{"b":0.526,"v":18.99},{"b":0.538,"v":18.97},{"b":0.548,"v":18.95},{"b":0.556,"v":18.98},{"b":0.564,"v":18.99},{"b":0.574,"v":18.96},{"b":0.588,"v":18.98},
{"b":0.503,"v":19.03},{"b":0.521,"v":19.00},{"b":0.533,"v":19.04},{"b":0.544,"v":19.02},{"b":0.553,"v":19.01},{"b":0.562,"v":19.03},{"b":0.571,"v":19.04},{"b":0.583,"v":19.02},
{"b":0.513,"v":19.06},{"b":0.529,"v":19.09},{"b":0.541,"v":19.07},{"b":0.551,"v":19.05},{"b":0.559,"v":19.08},{"b":0.567,"v":19.09},{"b":0.577,"v":19.06},{"b":0.591,"v":19.08},
{"b":0.507,"v":19.13},{"b":0.525,"v":19.10},{"b":0.537,"v":19.14},{"b":0.548,"v":19.12},{"b":0.557,"v":19.11},{"b":0.566,"v":19.13},{"b":0.575,"v":19.14},{"b":0.587,"v":19.12},
{"b":0.517,"v":19.16},{"b":0.533,"v":19.19},{"b":0.545,"v":19.17},{"b":0.555,"v":19.15},{"b":0.563,"v":19.18},{"b":0.571,"v":19.19},{"b":0.581,"v":19.16},{"b":0.595,"v":19.18},
{"b":0.511,"v":19.23},{"b":0.529,"v":19.20},{"b":0.541,"v":19.24},{"b":0.552,"v":19.22},{"b":0.561,"v":19.21},{"b":0.570,"v":19.23},{"b":0.579,"v":19.24},{"b":0.591,"v":19.22},
{"b":0.521,"v":19.26},{"b":0.537,"v":19.29},{"b":0.549,"v":19.27},{"b":0.559,"v":19.25},{"b":0.567,"v":19.28},{"b":0.575,"v":19.29},{"b":0.585,"v":19.26},{"b":0.599,"v":19.28},
{"b":0.515,"v":19.33},{"b":0.533,"v":19.30},{"b":0.545,"v":19.34},{"b":0.556,"v":19.32},{"b":0.565,"v":19.31},{"b":0.574,"v":19.33},{"b":0.583,"v":19.34},{"b":0.595,"v":19.32},
{"b":0.525,"v":19.36},{"b":0.541,"v":19.39},{"b":0.553,"v":19.37},{"b":0.563,"v":19.35},{"b":0.571,"v":19.38},{"b":0.579,"v":19.39},{"b":0.589,"v":19.36},{"b":0.603,"v":19.38},
{"b":0.520,"v":19.43},{"b":0.538,"v":19.40},{"b":0.550,"v":19.44},{"b":0.561,"v":19.42},{"b":0.570,"v":19.41},{"b":0.579,"v":19.43},{"b":0.588,"v":19.44},{"b":0.600,"v":19.42},
{"b":0.531,"v":19.46},{"b":0.547,"v":19.49},{"b":0.559,"v":19.47},{"b":0.569,"v":19.45},{"b":0.577,"v":19.48},{"b":0.585,"v":19.49},{"b":0.595,"v":19.46},{"b":0.609,"v":19.48},
{"b":0.526,"v":19.53},{"b":0.544,"v":19.50},{"b":0.556,"v":19.54},{"b":0.567,"v":19.52},{"b":0.576,"v":19.51},{"b":0.585,"v":19.53},{"b":0.594,"v":19.54},{"b":0.606,"v":19.52},
{"b":0.538,"v":19.56},{"b":0.554,"v":19.59},{"b":0.566,"v":19.57},{"b":0.576,"v":19.55},{"b":0.584,"v":19.58},{"b":0.592,"v":19.59},{"b":0.602,"v":19.56},{"b":0.616,"v":19.58},
{"b":0.534,"v":19.63},{"b":0.552,"v":19.60},{"b":0.564,"v":19.64},{"b":0.575,"v":19.62},{"b":0.584,"v":19.61},{"b":0.593,"v":19.63},{"b":0.602,"v":19.64},{"b":0.614,"v":19.62},
{"b":0.546,"v":19.66},{"b":0.562,"v":19.69},{"b":0.574,"v":19.67},{"b":0.584,"v":19.65},{"b":0.592,"v":19.68},{"b":0.600,"v":19.69},{"b":0.610,"v":19.66},{"b":0.624,"v":19.68},
{"b":0.503,"v":18.90},{"b":0.498,"v":19.00},{"b":0.506,"v":19.10},{"b":0.502,"v":19.20},{"b":0.509,"v":19.28},{"b":0.512,"v":18.78},{"b":0.496,"v":18.83},{"b":0.505,"v":19.35},{"b":0.515,"v":19.42},{"b":0.490,"v":19.05},{"b":0.510,"v":19.50},{"b":0.520,"v":19.56},{"b":0.493,"v":19.18},{"b":0.487,"v":18.95},
{"b":0.353,"v":17.97},{"b":0.377,"v":17.99},{"b":0.404,"v":18.02},{"b":0.404,"v":18.05},{"b":0.386,"v":18.09},{"b":0.367,"v":18.12},{"b":0.383,"v":18.14},{"b":0.422,"v":18.14},{"b":0.467,"v":18.12},{"b":0.517,"v":18.08},{"b":0.485,"v":18.18},{"b":0.500,"v":18.18},{"b":0.488,"v":18.25},{"b":0.496,"v":18.23},{"b":0.404,"v":18.21},{"b":0.412,"v":18.21},{"b":0.449,"v":18.21},{"b":0.409,"v":18.29},{"b":0.427,"v":18.34},{"b":0.442,"v":18.39},{"b":0.449,"v":18.39},{"b":0.469,"v":18.36},{"b":0.467,"v":18.43},{"b":0.473,"v":18.43},{"b":0.482,"v":18.42},{"b":0.371,"v":18.40},{"b":0.403,"v":18.49},{"b":0.399,"v":18.54},{"b":0.460,"v":18.52},{"b":0.497,"v":18.52},{"b":0.523,"v":18.50},{"b":0.328,"v":18.66},{"b":0.435,"v":18.63},{"b":0.449,"v":18.63},{"b":0.468,"v":18.63},{"b":0.487,"v":18.59},{"b":0.492,"v":18.63},{"b":0.438,"v":18.67},{"b":0.455,"v":18.71},{"b":0.421,"v":18.72},{"b":0.428,"v":18.77},{"b":0.462,"v":18.78},{"b":0.467,"v":18.81},{"b":0.474,"v":18.83},{"b":0.481,"v":18.80},{"b":0.421,"v":18.97},{"b":0.429,"v":18.93},{"b":0.450,"v":18.93},{"b":0.471,"v":18.99},{"b":0.471,"v":19.06},{"b":0.478,"v":19.13},{"b":0.478,"v":19.31},{"b":0.412,"v":19.51},{"b":0.459,"v":19.53},{"b":0.477,"v":19.51},{"b":0.483,"v":19.60},{"b":0.465,"v":19.65},{"b":0.418,"v":19.71},{"b":0.438,"v":19.81},{"b":0.492,"v":19.88},{"b":0.506,"v":19.62},{"b":0.496,"v":19.74},{"b":0.504,"v":19.72},{"b":0.508,"v":19.75},{"b":0.513,"v":19.82},{"b":0.524,"v":19.81},{"b":0.528,"v":19.88},{"b":0.526,"v":19.61},{"b":0.519,"v":19.45},{"b":0.517,"v":19.52},
{"b":0.641,"v":18.70},{"b":0.627,"v":18.72},{"b":0.631,"v":18.89},{"b":0.620,"v":18.97},{"b":0.633,"v":19.02},{"b":0.599,"v":18.93},{"b":0.608,"v":19.04},{"b":0.608,"v":19.15},{"b":0.599,"v":19.25},{"b":0.615,"v":19.25},{"b":0.628,"v":19.29},{"b":0.637,"v":19.34},{"b":0.650,"v":19.39},{"b":0.663,"v":19.43},{"b":0.672,"v":19.34},{"b":0.624,"v":19.39},{"b":0.612,"v":19.43},{"b":0.620,"v":19.53},{"b":0.641,"v":19.53},{"b":0.659,"v":19.55},{"b":0.669,"v":19.57},{"b":0.599,"v":18.65},{"b":0.586,"v":18.53},{"b":0.603,"v":18.49},{"b":0.590,"v":18.91},{"b":0.718,"v":18.97},{"b":0.762,"v":18.45},{"b":0.794,"v":18.22},{"b":0.786,"v":19.06},{"b":0.755,"v":19.43},
{"b":0.688,"v":19.53},{"b":0.710,"v":19.69},{"b":0.731,"v":19.86},{"b":0.740,"v":19.92},{"b":0.749,"v":20.13},{"b":0.762,"v":20.07},{"b":0.782,"v":20.07},{"b":0.774,"v":20.15},{"b":0.756,"v":20.22},{"b":0.774,"v":20.22},{"b":0.782,"v":20.24},{"b":0.769,"v":20.37},{"b":0.795,"v":20.40},{"b":0.794,"v":20.45},{"b":0.808,"v":20.61},{"b":0.814,"v":20.65},{"b":0.842,"v":20.61},{"b":0.859,"v":20.61},{"b":0.836,"v":20.68},{"b":0.846,"v":20.76},{"b":0.859,"v":20.68},{"b":0.868,"v":20.81},{"b":0.881,"v":20.73},{"b":0.849,"v":20.88},{"b":0.877,"v":20.87},{"b":0.868,"v":20.96},{"b":0.877,"v":21.03},{"b":0.855,"v":21.08},{"b":0.878,"v":21.19},{"b":0.870,"v":21.26},{"b":0.897,"v":21.20},{"b":0.877,"v":21.33},{"b":0.890,"v":21.21},{"b":0.859,"v":21.21},{"b":0.868,"v":21.40},{"b":0.842,"v":21.37},{"b":0.829,"v":21.32},
{"b":0.531,"v":19.69},{"b":0.526,"v":20.10},{"b":0.550,"v":20.22},{"b":0.563,"v":20.23},{"b":0.556,"v":20.04},{"b":0.538,"v":19.97},{"b":0.590,"v":20.36},{"b":0.595,"v":20.44},{"b":0.579,"v":20.60},{"b":0.600,"v":20.76},{"b":0.618,"v":20.47},{"b":0.627,"v":20.55},{"b":0.627,"v":20.68},{"b":0.647,"v":20.74},{"b":0.653,"v":20.89},{"b":0.663,"v":20.68},{"b":0.672,"v":20.85},{"b":0.691,"v":20.87},{"b":0.704,"v":20.99},{"b":0.712,"v":21.09},{"b":0.723,"v":21.01},{"b":0.736,"v":21.08},{"b":0.749,"v":21.20},{"b":0.762,"v":21.20},{"b":0.769,"v":21.27},{"b":0.460,"v":19.52},
{"b":0.783,"v":21.53},{"b":0.863,"v":21.60},{"b":0.878,"v":21.55},{"b":0.909,"v":21.54},{"b":0.892,"v":21.46},{"b":0.910,"v":21.48},{"b":0.847,"v":21.48},{"b":0.924,"v":21.42},{"b":0.964,"v":21.45},{"b":1.024,"v":21.35},{"b":0.787,"v":21.40},
{"b":0.876,"v":17.19},{"b":0.953,"v":17.34},{"b":0.846,"v":18.77},{"b":1.149,"v":19.54},{"b":0.974,"v":20.15},{"b":0.995,"v":20.26},{"b":1.012,"v":20.23},{"b":0.950,"v":20.60},{"b":0.973,"v":20.65},{"b":1.119,"v":20.60},{"b":1.196,"v":20.33},{"b":0.965,"v":20.81},{"b":0.985,"v":20.80},{"b":0.994,"v":20.82},{"b":0.949,"v":20.94},{"b":1.077,"v":20.97},{"b":0.963,"v":21.09},{"b":0.974,"v":21.17},{"b":0.996,"v":21.14},{"b":1.196,"v":21.13},{"b":1.023,"v":21.35},{"b":0.963,"v":21.46},{"b":0.914,"v":19.77},{"b":0.826,"v":19.87},{"b":0.808,"v":19.99},{"b":0.873,"v":20.13},{"b":0.829,"v":20.16},{"b":0.854,"v":20.22},{"b":0.806,"v":20.33},{"b":0.755,"v":19.83},{"b":0.738,"v":19.91},{"b":0.897,"v":20.52},{"b":0.863,"v":20.51},{"b":0.890,"v":20.64},{"b":0.910,"v":20.72},{"b":0.894,"v":20.74},{"b":0.944,"v":20.83},{"b":0.914,"v":20.95},{"b":0.937,"v":21.12},{"b":0.912,"v":21.32},{"b":0.923,"v":21.43},{"b":0.908,"v":21.47},{"b":0.908,"v":21.54},{"b":0.860,"v":21.60},{"b":0.518,"v":21.01},{"b":0.961,"v":19.14},
{"b":0.548,"v":18.33},{"b":0.556,"v":18.36},{"b":0.561,"v":18.40},{"b":0.552,"v":18.43},{"b":0.565,"v":18.34},{"b":0.545,"v":18.39},{"b":0.569,"v":18.30},{"b":0.575,"v":18.33},{"b":0.571,"v":18.37},{"b":0.578,"v":18.40},{"b":0.566,"v":18.42},{"b":0.583,"v":18.29},{"b":0.589,"v":18.32},{"b":0.585,"v":18.36},{"b":0.591,"v":18.38},{"b":0.596,"v":18.28},{"b":0.601,"v":18.31},{"b":0.598,"v":18.34},{"b":0.604,"v":18.37},{"b":0.609,"v":18.27},{"b":0.615,"v":18.30},{"b":0.611,"v":18.33},{"b":0.617,"v":18.35},{"b":0.621,"v":18.26},{"b":0.627,"v":18.29},{"b":0.623,"v":18.32},{"b":0.629,"v":18.34},{"b":0.634,"v":18.25},{"b":0.640,"v":18.28},{"b":0.636,"v":18.31},{"b":0.642,"v":18.33},{"b":0.647,"v":18.23},{"b":0.653,"v":18.26},{"b":0.649,"v":18.29},{"b":0.655,"v":18.31},{"b":0.660,"v":18.21},{"b":0.666,"v":18.24},{"b":0.662,"v":18.27},{"b":0.668,"v":18.30},{"b":0.673,"v":18.19},{"b":0.679,"v":18.22},{"b":0.675,"v":18.25},{"b":0.681,"v":18.27},{"b":0.685,"v":18.16},{"b":0.691,"v":18.19},{"b":0.687,"v":18.22},{"b":0.693,"v":18.25},{"b":0.698,"v":18.13},{"b":0.704,"v":18.16},{"b":0.700,"v":18.19},{"b":0.706,"v":18.22},{"b":0.711,"v":18.10},{"b":0.717,"v":18.13},{"b":0.713,"v":18.16},{"b":0.719,"v":18.18},{"b":0.723,"v":18.06},{"b":0.730,"v":18.09},{"b":0.726,"v":18.12},{"b":0.733,"v":18.14},{"b":0.733,"v":18.02},{"b":0.740,"v":18.05},{"b":0.736,"v":18.08},{"b":0.743,"v":18.10},{"b":0.742,"v":17.97},{"b":0.749,"v":18.00},{"b":0.745,"v":18.03},{"b":0.751,"v":18.05},{"b":0.749,"v":17.91},{"b":0.756,"v":17.94},{"b":0.752,"v":17.97},{"b":0.759,"v":17.99},
{"b":0.558,"v":18.31},{"b":0.563,"v":18.38},{"b":0.572,"v":18.35},{"b":0.580,"v":18.31},{"b":0.587,"v":18.34},{"b":0.594,"v":18.30},{"b":0.600,"v":18.35},{"b":0.606,"v":18.29},{"b":0.613,"v":18.33},{"b":0.619,"v":18.28},{"b":0.626,"v":18.31},{"b":0.632,"v":18.27},{"b":0.638,"v":18.30},{"b":0.644,"v":18.26},{"b":0.651,"v":18.29},{"b":0.657,"v":18.24},{"b":0.664,"v":18.28},{"b":0.670,"v":18.22},{"b":0.677,"v":18.26},{"b":0.683,"v":18.20},{"b":0.690,"v":18.23},{"b":0.696,"v":18.17},{"b":0.703,"v":18.20},{"b":0.709,"v":18.14},{"b":0.716,"v":18.17},{"b":0.721,"v":18.11},{"b":0.729,"v":18.14},{"b":0.735,"v":18.07},{"b":0.741,"v":18.10},{"b":0.747,"v":18.03},{"b":0.754,"v":18.01},{"b":0.757,"v":17.97},{"b":0.580,"v":18.39},{"b":0.596,"v":18.37},{"b":0.620,"v":18.36},{"b":0.645,"v":18.34},{"b":0.668,"v":18.32},{"b":0.585,"v":18.27},{"b":0.610,"v":18.25},{"b":0.640,"v":18.22},
{"b":0.527,"v":18.41},{"b":0.535,"v":18.38},{"b":0.541,"v":18.42},{"b":0.532,"v":18.44},{"b":0.520,"v":18.43},{"b":0.544,"v":18.36},
{"b":0.520,"v":18.24},{"b":0.535,"v":18.20},{"b":0.570,"v":18.26},{"b":0.590,"v":18.22},{"b":0.610,"v":18.20},{"b":0.560,"v":18.15},{"b":0.630,"v":18.18},{"b":0.660,"v":18.13},{"b":0.640,"v":18.10},{"b":0.690,"v":18.05},{"b":0.700,"v":18.09},{"b":0.680,"v":18.32},{"b":0.720,"v":18.25},{"b":0.650,"v":18.36},{"b":0.740,"v":18.20},
{"b":0.728,"v":17.95},{"b":0.735,"v":17.99},{"b":0.742,"v":17.93},{"b":0.748,"v":17.97},{"b":0.731,"v":18.02},{"b":0.745,"v":18.03},{"b":0.752,"v":17.95},{"b":0.738,"v":17.91},{"b":0.738,"v":17.87},{"b":0.746,"v":17.88},{"b":0.754,"v":17.86},{"b":0.732,"v":17.89},{"b":0.760,"v":17.90},{"b":0.742,"v":17.80},{"b":0.749,"v":17.83},{"b":0.756,"v":17.79},{"b":0.762,"v":17.84},{"b":0.745,"v":17.76},{"b":0.758,"v":17.75},{"b":0.751,"v":17.72},{"b":0.765,"v":17.78},{"b":0.755,"v":17.69},{"b":0.762,"v":17.67},{"b":0.748,"v":17.66},{"b":0.768,"v":17.71},{"b":0.758,"v":17.62},{"b":0.765,"v":17.60},{"b":0.772,"v":17.64},{"b":0.778,"v":17.59},{"b":0.762,"v":17.56},{"b":0.775,"v":17.55},{"b":0.768,"v":17.52},{"b":0.772,"v":17.47},{"b":0.779,"v":17.44},{"b":0.786,"v":17.48},{"b":0.775,"v":17.40},{"b":0.783,"v":17.37},{"b":0.790,"v":17.42},{"b":0.778,"v":17.33},{"b":0.785,"v":17.30},{"b":0.792,"v":17.34},{"b":0.771,"v":17.36},{"b":0.780,"v":17.24},{"b":0.788,"v":17.19},{"b":0.794,"v":17.23},{"b":0.783,"v":17.16},{"b":0.791,"v":17.13},{"b":0.798,"v":17.17},{"b":0.792,"v":17.07},{"b":0.799,"v":17.05},{"b":0.805,"v":17.09},{"b":0.795,"v":17.00},{"b":0.802,"v":16.97},{"b":0.808,"v":17.01},{"b":0.800,"v":16.92},{"b":0.807,"v":16.88},{"b":0.813,"v":16.90},{"b":0.805,"v":16.84},{"b":0.811,"v":16.81},{"b":0.809,"v":16.76},{"b":0.815,"v":16.73},{"b":0.821,"v":16.77},{"b":0.814,"v":16.68},{"b":0.820,"v":16.65},{"b":0.819,"v":16.61},{"b":0.826,"v":16.57},{"b":0.831,"v":16.62},{"b":0.824,"v":16.53},{"b":0.823,"v":16.49},{"b":0.831,"v":16.46},{"b":0.836,"v":16.50},{"b":0.829,"v":16.43},{"b":0.835,"v":16.39},{"b":0.843,"v":16.36},{"b":0.848,"v":16.39},{"b":0.840,"v":16.32},{"b":0.847,"v":16.29},{"b":0.850,"v":16.26},{"b":0.857,"v":16.22},{"b":0.853,"v":16.18},{"b":0.860,"v":16.20},
{"b":0.748,"v":17.90},{"b":0.763,"v":17.92},{"b":0.757,"v":17.85},{"b":0.767,"v":17.81},{"b":0.752,"v":17.78},{"b":0.770,"v":17.77},{"b":0.760,"v":17.73},{"b":0.772,"v":17.69},{"b":0.758,"v":17.64},{"b":0.776,"v":17.62},{"b":0.766,"v":17.58},{"b":0.781,"v":17.56},{"b":0.770,"v":17.51},{"b":0.784,"v":17.49},{"b":0.776,"v":17.46},{"b":0.788,"v":17.44},{"b":0.780,"v":17.40},{"b":0.791,"v":17.38},{"b":0.782,"v":17.34},{"b":0.795,"v":17.31},{"b":0.789,"v":17.27},{"b":0.784,"v":17.22},{"b":0.797,"v":17.20},{"b":0.786,"v":17.11},{"b":0.801,"v":17.12},{"b":0.794,"v":17.03},{"b":0.806,"v":17.04},{"b":0.797,"v":16.95},{"b":0.811,"v":16.96},{"b":0.803,"v":16.87},{"b":0.816,"v":16.85},{"b":0.808,"v":16.79},{"b":0.819,"v":16.80},{"b":0.812,"v":16.71},{"b":0.825,"v":16.70},{"b":0.817,"v":16.63},{"b":0.829,"v":16.66},{"b":0.822,"v":16.56},{"b":0.835,"v":16.55},{"b":0.827,"v":16.47},{"b":0.840,"v":16.45},{"b":0.834,"v":16.41},{"b":0.846,"v":16.42},{"b":0.838,"v":16.34},{"b":0.852,"v":16.33},{"b":0.844,"v":16.25},{"b":0.856,"v":16.28},{"b":0.849,"v":16.21},{"b":0.861,"v":16.17},{"b":0.857,"v":16.14},
{"b":0.716,"v":18.15},{"b":0.722,"v":18.12},{"b":0.728,"v":18.08},{"b":0.734,"v":18.05},{"b":0.744,"v":18.09},{"b":0.750,"v":18.06},{"b":0.757,"v":18.03},{"b":0.763,"v":18.00},{"b":0.760,"v":17.96},{"b":0.766,"v":17.92},{"b":0.771,"v":17.88},{"b":0.774,"v":17.83},{"b":0.778,"v":17.77},{"b":0.781,"v":17.70},{"b":0.724,"v":17.93},{"b":0.730,"v":17.88},{"b":0.737,"v":17.84},{"b":0.742,"v":17.75},{"b":0.736,"v":17.70},{"b":0.750,"v":17.65},{"b":0.757,"v":17.60},{"b":0.764,"v":17.70},{"b":0.770,"v":17.75},{"b":0.784,"v":17.58},{"b":0.790,"v":17.50},{"b":0.758,"v":17.50},{"b":0.765,"v":17.45},{"b":0.770,"v":17.40},
{"b":0.814,"v":16.27},{"b":0.783,"v":16.41},{"b":0.821,"v":16.38},{"b":0.768,"v":16.56},{"b":0.758,"v":16.58},{"b":0.712,"v":16.63},{"b":0.751,"v":16.69},{"b":0.779,"v":16.69},{"b":0.786,"v":16.61},{"b":0.829,"v":16.29},{"b":0.833,"v":16.37},{"b":0.845,"v":16.31},{"b":0.864,"v":16.21},{"b":0.868,"v":16.37},{"b":0.878,"v":16.29},{"b":0.881,"v":16.17},{"b":0.873,"v":16.37},{"b":0.859,"v":16.45},{"b":0.858,"v":16.67},{"b":0.845,"v":16.65},{"b":0.742,"v":16.94},{"b":0.742,"v":16.97},{"b":0.753,"v":17.14},{"b":0.763,"v":17.12},{"b":0.679,"v":17.17},{"b":0.636,"v":17.12},{"b":0.633,"v":17.23},{"b":0.700,"v":17.30},{"b":0.713,"v":17.37},{"b":0.694,"v":17.41},{"b":0.815,"v":17.30},{"b":0.815,"v":17.35},{"b":0.815,"v":17.40},{"b":0.828,"v":17.05},{"b":0.877,"v":17.20},{"b":0.994,"v":17.37},{"b":0.738,"v":17.43},{"b":0.738,"v":17.46},{"b":0.761,"v":17.43},{"b":0.653,"v":17.69},{"b":0.632,"v":17.77},{"b":0.633,"v":17.89},{"b":0.617,"v":17.96},{"b":0.631,"v":18.06},{"b":0.641,"v":18.05},{"b":0.665,"v":18.04},{"b":0.676,"v":18.12},{"b":0.696,"v":17.94},{"b":0.700,"v":18.00},{"b":0.705,"v":18.11},{"b":0.717,"v":18.03},{"b":0.723,"v":17.99},{"b":0.732,"v":17.80},{"b":0.718,"v":17.71},{"b":0.723,"v":17.73},{"b":0.700,"v":17.64},{"b":0.701,"v":17.69},{"b":0.705,"v":17.68},{"b":0.814,"v":17.94},{"b":0.867,"v":17.79},{"b":0.785,"v":18.07},{"b":0.776,"v":18.12},{"b":0.813,"v":18.18},{"b":0.628,"v":18.20},{"b":0.653,"v":18.19},{"b":0.664,"v":18.18},{"b":0.669,"v":18.06},{"b":0.686,"v":18.08},
{"b":0.992,"v":14.90},{"b":0.996,"v":14.93},{"b":1.012,"v":14.89},{"b":1.013,"v":14.88},{"b":1.003,"v":15.02},{"b":0.979,"v":14.95},{"b":0.985,"v":15.02},{"b":0.990,"v":15.04},{"b":0.962,"v":15.04},{"b":0.972,"v":15.04},{"b":0.977,"v":15.05},{"b":0.964,"v":15.08},{"b":0.967,"v":15.10},{"b":0.973,"v":15.11},{"b":0.978,"v":15.13},{"b":0.982,"v":15.11},{"b":0.958,"v":15.15},{"b":0.965,"v":15.16},{"b":0.972,"v":15.22},{"b":0.976,"v":15.20},{"b":0.988,"v":15.23},{"b":0.953,"v":15.24},{"b":0.949,"v":15.31},{"b":0.956,"v":15.32},{"b":0.915,"v":15.22},{"b":0.923,"v":15.06},{"b":0.931,"v":15.09},{"b":0.897,"v":15.31},{"b":0.862,"v":15.31},{"b":0.862,"v":15.41},{"b":0.909,"v":15.42},{"b":0.923,"v":15.37},{"b":0.928,"v":15.40},{"b":0.941,"v":15.39},{"b":0.896,"v":15.44},{"b":0.910,"v":15.47},{"b":0.915,"v":15.52},{"b":0.922,"v":15.48},{"b":0.924,"v":15.49},{"b":0.928,"v":15.51},{"b":0.935,"v":15.49},{"b":0.936,"v":15.55},{"b":0.941,"v":15.45},{"b":0.945,"v":15.59},{"b":0.927,"v":15.61},{"b":0.917,"v":15.61},{"b":0.904,"v":15.61},{"b":0.886,"v":15.63},{"b":0.891,"v":15.67},{"b":0.899,"v":15.65},{"b":0.905,"v":15.67},{"b":0.912,"v":15.68},{"b":0.900,"v":15.70},{"b":0.888,"v":15.74},{"b":0.928,"v":15.75},{"b":0.904,"v":15.79},{"b":0.913,"v":15.77},{"b":0.864,"v":15.79},{"b":0.844,"v":15.78},{"b":0.879,"v":15.86},{"b":0.890,"v":15.83},{"b":0.888,"v":15.90},{"b":0.896,"v":15.90},{"b":0.882,"v":15.94},{"b":0.903,"v":15.97},{"b":0.876,"v":15.97},{"b":0.859,"v":16.01},{"b":0.865,"v":16.05},{"b":0.869,"v":16.04},{"b":0.874,"v":16.06},{"b":0.872,"v":16.08},{"b":0.878,"v":16.12},{"b":0.854,"v":16.15},{"b":0.833,"v":15.91},{"b":0.824,"v":16.01},{"b":0.994,"v":15.84},
{"b":1.047,"v":14.77},{"b":1.073,"v":14.75},{"b":1.101,"v":14.68},{"b":1.112,"v":14.71},{"b":1.122,"v":14.57},{"b":1.140,"v":14.61},{"b":1.173,"v":14.51},{"b":1.173,"v":14.54},{"b":1.169,"v":14.23},{"b":1.178,"v":14.18},{"b":1.196,"v":14.17},{"b":0.994,"v":14.32},{"b":0.949,"v":14.58},{"b":0.886,"v":14.70},{"b":0.877,"v":14.75},{"b":0.919,"v":14.75},{"b":1.053,"v":14.77},{"b":1.081,"v":14.74},
{"b":0.492,"v":15.33},{"b":0.500,"v":15.33},{"b":0.528,"v":15.34},{"b":0.536,"v":15.38},{"b":0.552,"v":15.22},{"b":0.562,"v":15.38},{"b":0.570,"v":15.38},{"b":0.579,"v":15.39},{"b":0.586,"v":15.38},{"b":0.591,"v":15.32},{"b":0.592,"v":15.39},{"b":0.597,"v":15.41},{"b":0.601,"v":15.41},{"b":0.605,"v":15.39},{"b":0.608,"v":15.36},{"b":0.612,"v":15.40},{"b":0.617,"v":15.37},{"b":0.620,"v":15.37},{"b":0.624,"v":15.30},{"b":0.627,"v":15.40},{"b":0.631,"v":15.35},{"b":0.633,"v":15.38},{"b":0.636,"v":15.40},{"b":0.639,"v":15.40},{"b":0.642,"v":15.39},{"b":0.646,"v":15.33},{"b":0.652,"v":15.40},{"b":0.654,"v":15.37},{"b":0.658,"v":15.40},{"b":0.661,"v":15.31},{"b":0.663,"v":15.32},{"b":0.664,"v":15.38},{"b":0.667,"v":15.39},{"b":0.670,"v":15.37},{"b":0.680,"v":15.41},{"b":0.682,"v":15.33},{"b":0.683,"v":15.37},{"b":0.686,"v":15.38},{"b":0.688,"v":15.36},{"b":0.691,"v":15.32},{"b":0.692,"v":15.38},{"b":0.695,"v":15.36},{"b":0.697,"v":15.37},{"b":0.699,"v":15.40},{"b":0.705,"v":15.39},{"b":0.706,"v":15.31},{"b":0.710,"v":15.30},{"b":0.712,"v":15.37},{"b":0.714,"v":15.35},{"b":0.716,"v":15.36},{"b":0.718,"v":15.37},{"b":0.725,"v":15.37},{"b":0.728,"v":15.37},{"b":0.733,"v":15.31},{"b":0.673,"v":15.11},{"b":0.686,"v":15.05},{"b":0.692,"v":15.06},{"b":0.687,"v":15.12},{"b":0.688,"v":15.16},{"b":0.692,"v":15.18},{"b":0.696,"v":15.19},{"b":0.671,"v":15.25},{"b":0.680,"v":15.24},{"b":0.683,"v":15.27},{"b":0.715,"v":15.18},{"b":0.722,"v":15.20},{"b":0.714,"v":15.22},{"b":0.719,"v":15.28},{"b":0.605,"v":15.42},{"b":0.615,"v":15.41},{"b":0.623,"v":15.39},{"b":0.645,"v":15.41},{"b":0.649,"v":15.38},{"b":0.660,"v":15.38},{"b":0.672,"v":15.40},{"b":0.675,"v":15.36},{"b":0.690,"v":15.40},{"b":0.700,"v":15.35},{"b":0.703,"v":15.38},{"b":0.708,"v":15.41},{"b":0.720,"v":15.39},{"b":0.722,"v":15.35},{"b":0.676,"v":15.34},{"b":0.657,"v":15.35},{"b":0.641,"v":15.36},{"b":0.630,"v":15.41},{"b":0.595,"v":15.37},{"b":0.583,"v":15.36},{"b":0.573,"v":15.40},{"b":0.565,"v":15.36},{"b":0.550,"v":15.39},{"b":0.545,"v":15.37},
{"b":0.762,"v":15.26},{"b":0.763,"v":15.07},{"b":0.774,"v":14.95},{"b":0.782,"v":15.13},{"b":0.786,"v":14.88},{"b":0.804,"v":14.79},{"b":0.805,"v":14.98},{"b":0.810,"v":14.97},{"b":0.810,"v":15.07},{"b":0.899,"v":15.31},
{"b":0.156,"v":15.36},{"b":0.178,"v":15.31},{"b":0.182,"v":15.34},{"b":0.183,"v":15.36},{"b":0.200,"v":15.33},{"b":0.212,"v":15.34},
{"b":0.236,"v":17.00},{"b":0.332,"v":17.00},{"b":0.339,"v":16.98},{"b":0.320,"v":17.12},{"b":0.329,"v":17.15},{"b":0.487,"v":17.06},{"b":0.430,"v":17.23},{"b":0.454,"v":17.26},{"b":0.373,"v":17.29},{"b":0.335,"v":17.37},{"b":0.384,"v":17.45},{"b":0.399,"v":17.43},{"b":0.400,"v":17.46},{"b":0.579,"v":17.44},{"b":0.634,"v":17.24},{"b":0.426,"v":17.55},{"b":0.468,"v":17.55},{"b":0.499,"v":17.59},{"b":0.393,"v":17.57},{"b":0.285,"v":17.61},{"b":0.342,"v":17.73},{"b":0.354,"v":17.73},{"b":0.381,"v":17.72},{"b":0.401,"v":17.79},{"b":0.426,"v":17.79},{"b":0.451,"v":17.77},{"b":0.310,"v":17.80},{"b":0.399,"v":17.87},{"b":0.532,"v":17.86},{"b":0.556,"v":17.91},{"b":0.466,"v":17.91},{"b":0.345,"v":17.95},{"b":0.551,"v":17.95},{"b":0.550,"v":18.01},{"b":0.575,"v":17.97},{"b":0.631,"v":17.77},{"b":0.631,"v":18.07},{"b":0.560,"v":18.06},{"b":0.569,"v":18.07},{"b":0.387,"v":18.09},{"b":0.423,"v":18.13},{"b":0.468,"v":18.11},{"b":0.301,"v":16.63}
]},
"layer":[
{"data":{"name":"stars"},
 "mark":{"type":"circle","size":10,"color":"#999999","opacity":1},
 "encoding":{
  "x":{"field":"b","type":"quantitative","scale":{"domain":[0.15,1.2],"nice":false,"zero":false},
   "axis":{"orient":"bottom","values":[0.2,0.4,0.6,0.8,1,1.2],"format":"~g","tickSize":-13,"labelPadding":28,"domain":true,"domainColor":"black","domainWidth":3,"title":"B−V","titleY":62,"titleBaseline":"middle"}},
  "y":{"field":"v","type":"quantitative","scale":{"domain":[14.1,21.7],"reverse":true,"nice":false,"zero":false},
   "axis":{"orient":"left","values":[16,18,20],"format":"d","tickSize":-13,"labelPadding":26,"title":"V","titleAngle":0,"titleX":-39,"titleY":131,"titleAlign":"center","titleBaseline":"middle"}}
 }},
{"data":{"name":"ids"},
 "mark":{"type":"text","font":"DejaVu Serif","fontWeight":"bold","fontSize":18,"align":"center","baseline":"middle"},
 "encoding":{
  "x":{"field":"b","type":"quantitative","axis":{"orient":"bottom","values":[0.25,0.3,0.35,0.45,0.5,0.55,0.65,0.7,0.75,0.85,0.9,0.95,1.05,1.1,1.15],"tickSize":-7,"labels":false,"title":null}},
  "y":{"field":"v","type":"quantitative","axis":{"orient":"left","values":[14.5,15,15.5,16.5,17,17.5,18.5,19,19.5,20.5,21,21.5],"tickSize":-7,"labels":false,"title":null}},
  "text":{"field":"lab"},
  "color":{"field":"g","type":"nominal","scale":{"domain":["r","b"],"range":["#ff0000","#0000ff"]},"legend":null}
 }},
{"data":{"name":"ids"},
 "mark":{"type":"point","opacity":0},
 "encoding":{
  "x":{"field":"b","type":"quantitative","axis":{"orient":"top","values":[0.2,0.4,0.6,0.8,1],"tickSize":-13,"labels":false,"title":null}},
  "y":{"field":"v","type":"quantitative","axis":{"orient":"right","values":[16,18,20],"tickSize":-13,"labels":false,"title":null}}
 }},
{"data":{"name":"ids"},
 "mark":{"type":"point","opacity":0},
 "encoding":{
  "x":{"field":"b","type":"quantitative","axis":{"orient":"top","values":[0.25,0.3,0.35,0.45,0.5,0.55,0.65,0.7,0.75,0.85,0.9,0.95,1.05,1.1,1.15],"tickSize":-7,"labels":false,"title":null}},
  "y":{"field":"v","type":"quantitative","axis":{"orient":"right","values":[14.5,15,15.5,16.5,17,17.5,18.5,19,19.5,20.5,21,21.5],"tickSize":-7,"labels":false,"title":null}}
 }}
],
"resolve":{"axis":{"x":"independent","y":"independent"}}
}
